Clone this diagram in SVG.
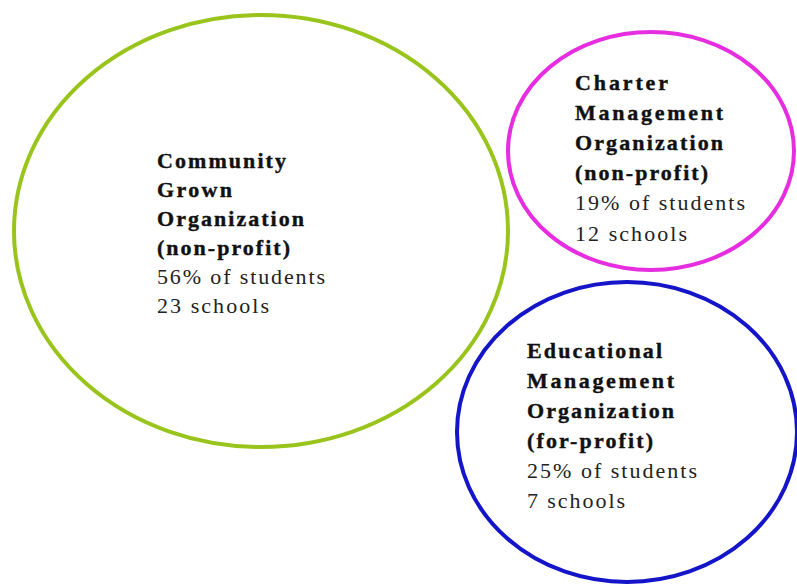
<svg xmlns="http://www.w3.org/2000/svg" width="797" height="586" viewBox="0 0 797 586">
<style>
.ring{fill:none;stroke-width:4}
.b{font-family:"Liberation Serif","Times New Roman",serif;font-size:22px;font-weight:bold;fill:#111;stroke:#111;stroke-width:0.4}
.r{font-family:"Liberation Serif","Times New Roman",serif;font-size:22px;fill:#222}
</style>
<rect width="797" height="586" fill="#ffffff"/>
<g id="community">
<ellipse class="ring" cx="261" cy="231" rx="247" ry="216" stroke="#99c41c"/>
<text x="157" y="168" class="b" textLength="129" lengthAdjust="spacing">Community</text>
<text x="157" y="197" class="b" textLength="75" lengthAdjust="spacing">Grown</text>
<text x="157" y="226" class="b" textLength="147" lengthAdjust="spacing">Organization</text>
<text x="157" y="255" class="b" textLength="133" lengthAdjust="spacing">(non-profit)</text>
<text x="157" y="284" class="r" textLength="168" lengthAdjust="spacing">56% of students</text>
<text x="157" y="313" class="r" textLength="112" lengthAdjust="spacing">23 schools</text>
</g>
<g id="charter">
<ellipse class="ring" cx="651" cy="151" rx="143" ry="119" stroke="#e62ee0"/>
<text x="575" y="90" class="b" textLength="93" lengthAdjust="spacing">Charter</text>
<text x="575" y="120" class="b" textLength="148" lengthAdjust="spacing">Management</text>
<text x="575" y="150" class="b" textLength="148" lengthAdjust="spacing">Organization</text>
<text x="575" y="180" class="b" textLength="133" lengthAdjust="spacing">(non-profit)</text>
<text x="575" y="210" class="r" textLength="170" lengthAdjust="spacing">19% of students</text>
<text x="575" y="241" class="r" textLength="112" lengthAdjust="spacing">12 schools</text>
</g>
<g id="educational">
<ellipse class="ring" cx="627" cy="432" rx="170" ry="150" stroke="#1414c8"/>
<text x="527" y="358" class="b" textLength="135" lengthAdjust="spacing">Educational</text>
<text x="527" y="388" class="b" textLength="147" lengthAdjust="spacing">Management</text>
<text x="527" y="418" class="b" textLength="147" lengthAdjust="spacing">Organization</text>
<text x="527" y="448" class="b" textLength="126" lengthAdjust="spacing">(for-profit)</text>
<text x="527" y="478" class="r" textLength="170" lengthAdjust="spacing">25% of students</text>
<text x="527" y="508" class="r" textLength="98" lengthAdjust="spacing">7 schools</text>
</g>
<g id="connectors"/>
</svg>
